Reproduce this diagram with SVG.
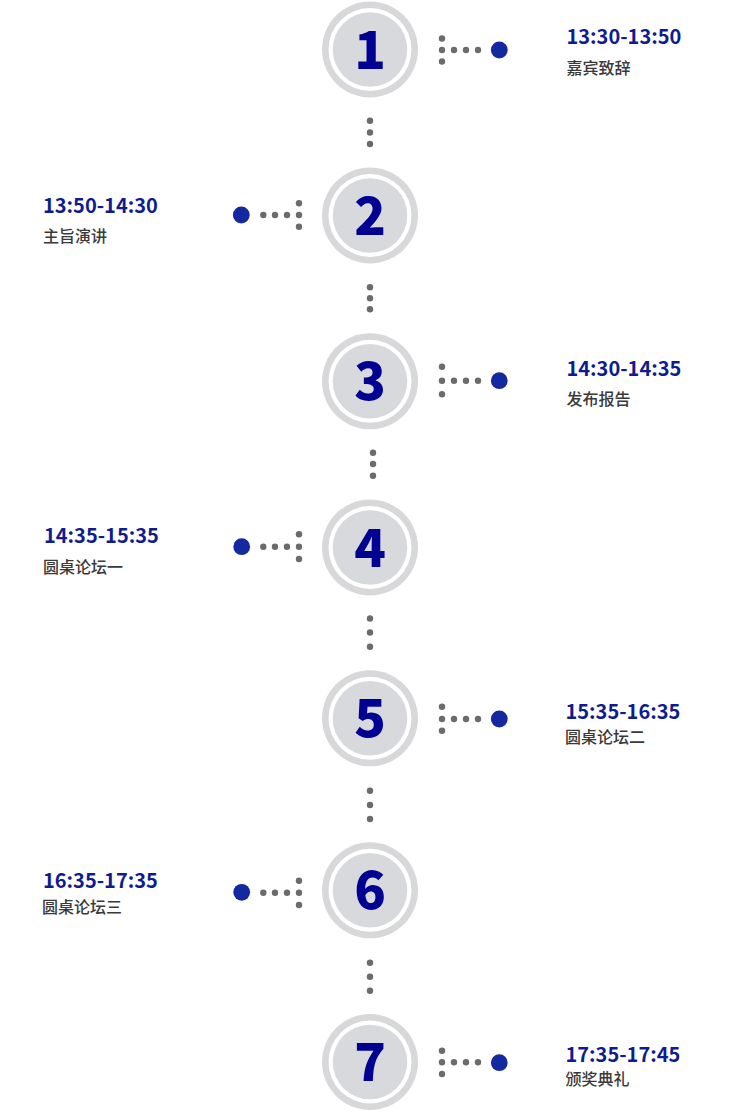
<svg xmlns="http://www.w3.org/2000/svg" width="750" height="1112" viewBox="0 0 750 1112">
<defs>
<style>
.ring{fill:#d8d8da}
.gap{fill:#ffffff}
.core{fill:#d8d9dc}
.num{font-family:"Noto Sans CJK SC","Noto Sans",sans-serif;font-weight:900;font-size:52px;fill:#000093;text-anchor:middle}
.time{font-family:"Noto Sans CJK SC","Noto Sans",sans-serif;font-weight:700;font-size:20px;fill:#0f1c8f}
.lbl{font-family:"Noto Sans CJK SC",sans-serif;font-weight:500;font-size:16px;fill:#3a3a3a}
.d{fill:#6b6b6b}
.b{fill:#1428a0}
</style>
<g id="node-shape">
<circle id="ring" r="48" class="ring"/>
</g>
</defs>
<rect width="750" height="1112" fill="#ffffff"/>
<g id="connectors">
<circle class="d" cx="370" cy="120.7" r="3.2"/><circle class="d" cx="370" cy="132.5" r="3.2"/><circle class="d" cx="370" cy="144" r="3.2"/>
<circle class="d" cx="370" cy="287.3" r="3.2"/><circle class="d" cx="370" cy="298.3" r="3.2"/><circle class="d" cx="370" cy="309.3" r="3.2"/>
<circle class="d" cx="373" cy="452.7" r="3.2"/><circle class="d" cx="373" cy="464" r="3.2"/><circle class="d" cx="373" cy="475.7" r="3.2"/>
<circle class="d" cx="370" cy="618.5" r="3.2"/><circle class="d" cx="370" cy="632.5" r="3.2"/><circle class="d" cx="370" cy="646.7" r="3.2"/>
<circle class="d" cx="370" cy="790.7" r="3.2"/><circle class="d" cx="370" cy="805" r="3.2"/><circle class="d" cx="370" cy="819" r="3.2"/>
<circle class="d" cx="370" cy="962.7" r="3.2"/><circle class="d" cx="370" cy="976.7" r="3.2"/><circle class="d" cx="370" cy="990.7" r="3.2"/>
</g>
<g id="node-1">
<circle cx="370" cy="49.5" r="48" class="ring"/><circle cx="370" cy="49.5" r="41.5" class="gap"/><circle cx="370" cy="49.5" r="37.3" class="core"/>
<text class="num" x="370" y="68.5">1</text>
<circle class="d" cx="442" cy="38.5" r="3.2"/><circle class="d" cx="442" cy="50" r="3.2"/><circle class="d" cx="442" cy="61.5" r="3.2"/>
<circle class="d" cx="454" cy="50" r="3.2"/><circle class="d" cx="466" cy="50" r="3.2"/><circle class="d" cx="478" cy="50" r="3.2"/>
<circle class="b" cx="499.3" cy="50" r="8.4"/>
<text class="time" x="566.5" y="44">13:30-13:50</text>
<text class="lbl" x="566.5" y="74">嘉宾致辞</text>
</g>
<g id="node-2">
<circle cx="370" cy="215.5" r="48" class="ring"/><circle cx="370" cy="215.5" r="41.5" class="gap"/><circle cx="370" cy="215.5" r="37.3" class="core"/>
<text class="num" x="370" y="234.5">2</text>
<circle class="d" cx="299" cy="203.3" r="3.2"/><circle class="d" cx="299" cy="215" r="3.2"/><circle class="d" cx="299" cy="226.7" r="3.2"/>
<circle class="d" cx="287" cy="215" r="3.2"/><circle class="d" cx="275" cy="215" r="3.2"/><circle class="d" cx="263.3" cy="215" r="3.2"/>
<circle class="b" cx="241.3" cy="215" r="8.4"/>
<text class="time" x="43" y="212.5">13:50-14:30</text>
<text class="lbl" x="43" y="242">主旨演讲</text>
</g>
<g id="node-3">
<circle cx="370" cy="381.3" r="48" class="ring"/><circle cx="370" cy="381.3" r="41.5" class="gap"/><circle cx="370" cy="381.3" r="37.3" class="core"/>
<text class="num" x="370" y="400.3">3</text>
<circle class="d" cx="442" cy="366.7" r="3.2"/><circle class="d" cx="442" cy="380.7" r="3.2"/><circle class="d" cx="442" cy="394.3" r="3.2"/>
<circle class="d" cx="454" cy="380.7" r="3.2"/><circle class="d" cx="466" cy="380.7" r="3.2"/><circle class="d" cx="478" cy="380.7" r="3.2"/>
<circle class="b" cx="499.3" cy="380.7" r="8.4"/>
<text class="time" x="566.5" y="375.7">14:30-14:35</text>
<text class="lbl" x="566.5" y="405">发布报告</text>
</g>
<g id="node-4">
<circle cx="370" cy="547.5" r="48" class="ring"/><circle cx="370" cy="547.5" r="41.5" class="gap"/><circle cx="370" cy="547.5" r="37.3" class="core"/>
<text class="num" x="370" y="566.5">4</text>
<circle class="d" cx="299" cy="534.3" r="3.2"/><circle class="d" cx="299" cy="546.7" r="3.2"/><circle class="d" cx="299" cy="559" r="3.2"/>
<circle class="d" cx="287" cy="546.7" r="3.2"/><circle class="d" cx="275" cy="546.7" r="3.2"/><circle class="d" cx="263.3" cy="546.7" r="3.2"/>
<circle class="b" cx="241.7" cy="546.7" r="8.4"/>
<text class="time" x="44" y="543">14:35-15:35</text>
<text class="lbl" x="43" y="573">圆桌论坛一</text>
</g>
<g id="node-5">
<circle cx="370" cy="718.3" r="48" class="ring"/><circle cx="370" cy="718.3" r="41.5" class="gap"/><circle cx="370" cy="718.3" r="37.3" class="core"/>
<text class="num" x="370" y="737.3">5</text>
<circle class="d" cx="442" cy="706.7" r="3.2"/><circle class="d" cx="442" cy="719" r="3.2"/><circle class="d" cx="442" cy="730.7" r="3.2"/>
<circle class="d" cx="454" cy="719" r="3.2"/><circle class="d" cx="466" cy="719" r="3.2"/><circle class="d" cx="478" cy="719" r="3.2"/>
<circle class="b" cx="499.3" cy="719" r="8.4"/>
<text class="time" x="565.5" y="719">15:35-16:35</text>
<text class="lbl" x="565" y="743">圆桌论坛二</text>
</g>
<g id="node-6">
<circle cx="370" cy="890.3" r="48" class="ring"/><circle cx="370" cy="890.3" r="41.5" class="gap"/><circle cx="370" cy="890.3" r="37.3" class="core"/>
<text class="num" x="370" y="909.3">6</text>
<circle class="d" cx="299" cy="880.7" r="3.2"/><circle class="d" cx="299" cy="892.7" r="3.2"/><circle class="d" cx="299" cy="905" r="3.2"/>
<circle class="d" cx="287" cy="892.7" r="3.2"/><circle class="d" cx="275" cy="892.7" r="3.2"/><circle class="d" cx="263.3" cy="892.7" r="3.2"/>
<circle class="b" cx="241.7" cy="892.3" r="8.4"/>
<text class="time" x="43" y="888">16:35-17:35</text>
<text class="lbl" x="42" y="913">圆桌论坛三</text>
</g>
<g id="node-7">
<circle cx="370" cy="1062" r="48" class="ring"/><circle cx="370" cy="1062" r="41.5" class="gap"/><circle cx="370" cy="1062" r="37.3" class="core"/>
<text class="num" x="370" y="1081">7</text>
<circle class="d" cx="442" cy="1050.7" r="3.2"/><circle class="d" cx="442" cy="1062.3" r="3.2"/><circle class="d" cx="442" cy="1074" r="3.2"/>
<circle class="d" cx="454" cy="1062.3" r="3.2"/><circle class="d" cx="466" cy="1062.3" r="3.2"/><circle class="d" cx="478" cy="1062.3" r="3.2"/>
<circle class="b" cx="499.3" cy="1062.7" r="8.4"/>
<text class="time" x="565.5" y="1061.5">17:35-17:45</text>
<text class="lbl" x="565.5" y="1085">颁奖典礼</text>
</g>
</svg>
